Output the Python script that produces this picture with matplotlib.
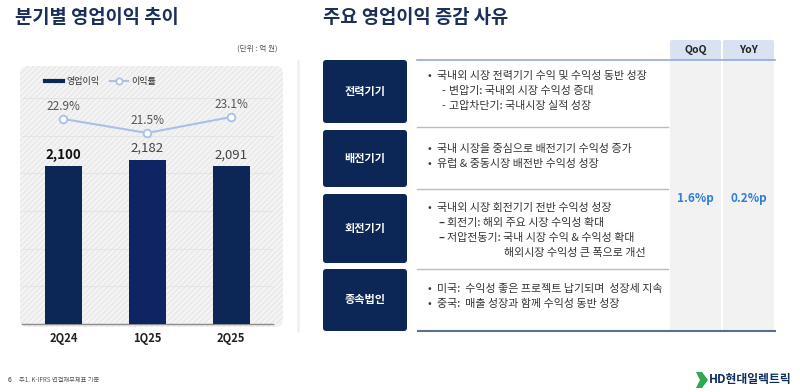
"""Quarterly operating profit slide: bar + margin line, with reason table."""

import matplotlib

matplotlib.use("Agg")
import matplotlib.pyplot as plt
from matplotlib.lines import Line2D
from matplotlib.patches import FancyBboxPatch, Polygon, Rectangle

plt.rcParams["font.family"] = ["Noto Sans CJK KR", "DejaVu Sans"]

# data
quarters = ["2Q24", "1Q25", "2Q25"]
op_income = [2100, 2182, 2091]          # 억 원
margin = [22.9, 21.5, 23.1]             # %
segments = ["전력기기", "배전기기", "회전기기", "종속법인"]
reasons = [
    [("bullet", "국내외 시장 전력기기 수익 및 수익성 동반 성장"),
     ("sub", "변압기: 국내외 시장 수익성 증대"),
     ("sub", "고압차단기: 국내시장 실적 성장")],
    [("bullet", "국내 시장을 중심으로 배전기기 수익성 증가"),
     ("bullet", "유럽 & 중동시장 배전반 수익성 성장")],
    [("bullet", "국내외 시장 회전기기 전반 수익성 성장"),
     ("dash", "회전기: 해외 주요 시장 수익성 확대"),
     ("dash", "저압전동기: 국내 시장 수익 & 수익성 확대"),
     ("cont", "해외시장 수익성 큰 폭으로 개선")],
    [("bullet", "미국:  수익성 좋은 프로젝트 납기되며  성장세 지속"),
     ("bullet", "중국:  매출 성장과 함께 수익성 동반 성장")],
]
change_headers = ["QoQ", "YoY"]
change_values = ["1.6%p", "0.2%p"]

NAVY = "#0c2656"
TITLE = "#1b2f5b"
TEXT = "#333333"
FS = 7.9

W, H = 800, 392
fig = plt.figure(figsize=(W / 100, H / 100), dpi=100)
fig.patch.set_facecolor("white")

# overlay in pixel coordinates for the slide furniture
ov = fig.add_axes([0, 0, 1, 1], zorder=0)
ov.set_xlim(0, W)
ov.set_ylim(H, 0)
ov.axis("off")

# ---- left panel ----
ov.add_patch(FancyBboxPatch((20, 66), 263, 261, boxstyle="round,pad=0,rounding_size=8",
                            facecolor="#f4f4f4", edgecolor="#e8e8e8", hatch="//////",
                            linewidth=0))
ov.plot([298, 298], [60, 332], color="#f0f0f0", lw=2, solid_capstyle="butt")

ov.text(15, 17, "분기별 영업이익 추이", fontsize=13.5, fontweight="bold", color=TITLE,
        va="center", ha="left")
ov.text(278, 49, "(단위 : 억 원)", fontsize=5.5, color="#555555", va="center", ha="right")

# legend
ov.add_line(Line2D([45, 63], [81, 81], color=NAVY, lw=3))
ov.text(66, 81, "영업이익", fontsize=6.5, color=TEXT, va="center")
ov.add_line(Line2D([110, 128], [81, 81], color="#a9c0e8", lw=1.5))
ov.add_line(Line2D([119], [81], marker="o", ms=4.5, mfc="white", mec="#a9c0e8", mew=1.2))
ov.text(131, 81, "이익률", fontsize=6.5, color=TEXT, va="center")

ax = fig.add_axes([22 / W, (H - 324) / H, 251 / W, 226 / H], zorder=2)
ax.patch.set_alpha(0)
x = list(range(len(quarters)))
bar_colors = [NAVY, "#0f2462", NAVY]
ax.bar(x, op_income, width=0.44, color=bar_colors, zorder=3)
ax.set_xlim(-0.494, 2.5)
ax.set_ylim(0, 3000)
ax.set_yticks(range(0, 3001, 500))
ax.yaxis.grid(True, color="#e4e4e4", lw=0.8)
ax.set_axisbelow(True)
ax.tick_params(axis="y", length=0, labelleft=False)
ax.set_xticks(x, quarters)
ax.tick_params(axis="x", length=0, pad=6, labelsize=8, labelcolor="#222222")
for lab in ax.get_xticklabels():
    lab.set_fontweight("bold")
for side in ["top", "left", "right"]:
    ax.spines[side].set_visible(False)
ax.spines["bottom"].set_color("#8c8c8c")
ax.spines["bottom"].set_linewidth(1)
for i, v in enumerate(op_income):
    ax.annotate(f"{v:,}", (i, v), xytext=(0, 8), textcoords="offset points",
                ha="center", va="center", fontsize=9.5,
                color="#111111" if i == 0 else "#444444",
                fontweight="bold" if i == 0 else "normal")

ax2 = ax.twinx()
ax2.set_ylim(2.4, 25.0)
ax2.plot(x, margin, color="#a9c0e8", lw=1.5, marker="o", ms=5.5, mfc="white",
         mec="#a9c0e8", mew=1.3, zorder=4)
ax2.axis("off")
for i, m in enumerate(margin):
    ax2.annotate(f"{m:.1f}%", (i, m), xytext=(0, 9), textcoords="offset points",
                 ha="center", va="center", fontsize=8.5, color="#555555")

# ---- right table ----
ov.text(323, 17, "주요 영업이익 증감 사유", fontsize=13.5, fontweight="bold", color=TITLE,
        va="center", ha="left")

col_x = [670, 723]
col_w = 51
for cx, head, val in zip(col_x, change_headers, change_values):
    ov.add_patch(Rectangle((cx, 60), col_w, 271, facecolor="#f2f2f2", edgecolor="none"))
    ov.add_patch(FancyBboxPatch((cx, 40), col_w, 20, boxstyle="round,pad=0,rounding_size=2",
                                facecolor="#d9e2f3", edgecolor="none"))
    ov.text(cx + col_w / 2, 50, head, fontsize=7.5, fontweight="bold", color="#222222",
            ha="center", va="center")
    ov.text(cx + col_w / 2, 198, val, fontsize=8.5, fontweight="bold", color="#2f7dd6",
            ha="center", va="center")

ov.add_line(Line2D([417, 775], [60, 60], color="#8faadc", lw=1.2))
ov.add_line(Line2D([418, 775], [331, 331], color="#5b6f90", lw=1.5))
for yy in [127, 189, 269]:
    ov.add_line(Line2D([417, 668], [yy, yy], color="#bdbdbd", lw=1))

row_boxes = [(60, 123), (130, 187), (194, 263), (269, 331)]
first_line = [76, 149, 208, 289]
line_gap = 15
for seg, (top, bot), y0, lines in zip(segments, row_boxes, first_line, reasons):
    ov.add_patch(FancyBboxPatch((323, top), 84, bot - top,
                                boxstyle="round,pad=0,rounding_size=3",
                                facecolor=NAVY, edgecolor="none"))
    ov.text(365, (top + bot) / 2, seg, fontsize=8, fontweight="bold", color="white",
            ha="center", va="center")
    for k, (kind, txt) in enumerate(lines):
        yy = y0 + k * line_gap
        if kind == "bullet":
            ov.text(428, yy, "•", fontsize=FS, color=TEXT, va="center")
            ov.text(437, yy, txt, fontsize=FS, color=TEXT, va="center")
        elif kind == "sub":
            ov.text(442, yy, "-", fontsize=FS, color=TEXT, va="center")
            ov.text(449, yy, txt, fontsize=FS, color=TEXT, va="center")
        elif kind == "dash":
            ov.text(438, yy, "–", fontsize=FS, fontweight="bold", color=TEXT, va="center")
            ov.text(447, yy, txt, fontsize=FS, color=TEXT, va="center")
        else:
            ov.text(504, yy, txt, fontsize=FS, color=TEXT, va="center")

# ---- footer ----
ov.text(8, 380, "6", fontsize=5, color="#333333", va="center")
ov.text(19, 380, "주1. K-IFRS 연결재무제표 기준", fontsize=4.5, color="#555555", va="center")
ov.add_patch(Polygon([(696, 372), (702, 372), (708, 380), (702, 388), (696, 388), (700, 380)],
                     closed=True, facecolor="#2fa84f", edgecolor="none"))
ov.text(709, 380, "HD현대일렉트릭", fontsize=8.5, fontweight="bold", color="#0c2b5e",
        va="center", ha="left")

fig.savefig("out.png", dpi=100)
plt.close(fig)
